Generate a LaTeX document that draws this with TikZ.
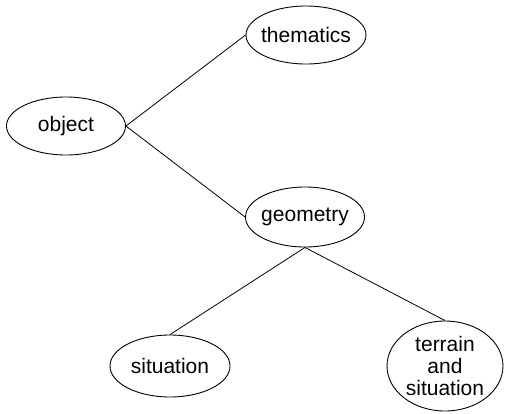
\documentclass[tikz,border=0pt]{standalone}
\usepackage{fontspec}
\setmainfont{Liberation Sans}
\usetikzlibrary{shapes.geometric}
\begin{document}
\begin{tikzpicture}[x=1pt,y=-1pt,
  oval/.style={draw,ellipse,line width=0.9pt,inner sep=0pt},
  txt/.style={font=\fontsize{21}{22}\selectfont,align=center,inner sep=0pt},
  link/.style={line width=0.8pt}]
\useasboundingbox (0,0) rectangle (506,413);
\node[oval,minimum width=119pt,minimum height=58pt,label={[txt]center:object}] (object) at (66,126) {};
\node[oval,minimum width=120pt,minimum height=58pt,label={[txt]center:thematics}] (thematics) at (306,35) {};
\node[oval,minimum width=119pt,minimum height=60pt,label={[txt]center:geometry}] (geometry) at (305,217) {};
\node[oval,minimum width=120pt,minimum height=62pt,label={[txt]center:situation}] (situation) at (170,366) {};
\node[oval,minimum width=116pt,minimum height=90pt,label={[txt]center:{terrain\\and\\situation}}] (terrain) at (445,366) {};
\draw[link] (object.east) -- (thematics.west);
\draw[link] (object.east) -- (geometry.west);
\draw[link] (geometry.south) -- (situation.north);
\draw[link] (geometry.south) -- (terrain.north);
\end{tikzpicture}
\end{document}
